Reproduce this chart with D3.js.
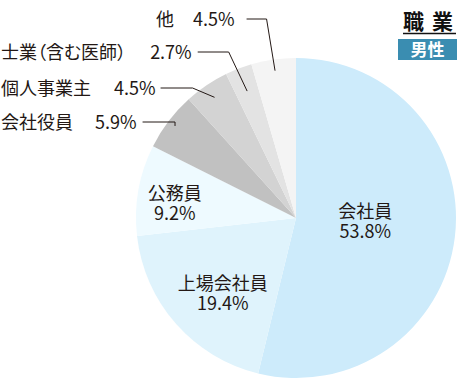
<!DOCTYPE html>
<html lang="ja">
<head>
<meta charset="UTF-8" />
<title>職業 男性</title>
<style>
  body { margin: 0; background: #fff; }
  svg { display: block; font-family: "Noto Sans CJK JP", "Noto Sans", sans-serif; }
  .inLabel { font-size: 18px; fill: #231815; text-anchor: middle; }
  .outLabel { font-size: 18px; fill: #231815; }
  .leader { fill: none; stroke: #231815; stroke-width: 1px; }
</style>
</head>
<body>
<script src="https://cdn.jsdelivr.net/npm/d3@7"></script>
<script>
// data, clockwise from 12 o'clock
var categories = ["会社員", "上場会社員", "公務員", "会社役員", "個人事業主", "士業（含む医師）", "他"];
var shares = [53.8, 19.4, 9.2, 5.9, 4.5, 2.7, 4.5];
var colors = ["#cdebfb", "#dff3fc", "#eefaff", "#c1c1c1", "#d3d3d3", "#e3e3e3", "#f4f4f4"];

var w = 471, h = 382;
var cx = 296, cy = 218, r = 160;

var svg = d3.select("body").append("svg")
  .attr("width", w)
  .attr("height", h);

var data = categories.map(function(c, i) {
  return { name: c, value: shares[i], color: colors[i] };
});

var pie = d3.pie()
  .sort(null)
  .value(function(d) { return d.value; });
var arcs = pie(data);

var arc = d3.arc().innerRadius(0).outerRadius(r);

var g = svg.append("g")
  .attr("transform", "translate(" + cx + "," + cy + ")");

g.selectAll("path.slice")
  .data(arcs)
  .enter().append("path")
  .attr("class", "slice")
  .attr("d", arc)
  .attr("fill", function(d) { return d.data.color; });

// labels inside the pie: radius factor along the mid angle, plus a nudge
var inside = {
  "会社員":     { k: 0.43, dx: 1, dy: -5 },
  "上場会社員": { k: 0.66, dx: 6, dy: 5 },
  "公務員":     { k: 0.77, dx: 0, dy: 7 }
};
arcs.forEach(function(d) {
  var o = inside[d.data.name];
  if (!o) return;
  var mid = (d.startAngle + d.endAngle) / 2;
  var x = Math.sin(mid) * r * o.k + o.dx, y = -Math.cos(mid) * r * o.k + o.dy;
  g.append("text")
    .attr("class", "inLabel")
    .attr("x", x)
    .attr("y", y - 3)
    .text(d.data.name);
  g.append("text")
    .attr("class", "inLabel")
    .attr("x", x)
    .attr("y", y + 17)
    .text(d.data.value.toFixed(1) + "%");
});

// labels outside with leader lines
var outside = {
  "会社役員":        { x: 1,   y: 122, gap: 22, lead: 6,  run: 35, tip: 0.95 },
  "個人事業主":      { x: 1,   y: 88,  gap: 23, lead: 5,  run: 32, tip: 0.91 },
  "士業（含む医師）": { x: 1,   y: 52,  gap: 24, lead: 6,  run: 31, tip: 0.85, palt: true },
  "他":              { x: 156, y: 19,  gap: 19, lead: 12, run: 20, tip: 0.93 }
};

arcs.forEach(function(d) {
  var o = outside[d.data.name];
  if (!o) return;
  var t = svg.append("text")
    .attr("class", "outLabel")
    .attr("x", o.x)
    .attr("y", o.y + 6.5);
  var n = t.append("tspan").text(d.data.name);
  if (o.palt) n.style("font-feature-settings", "'palt'");
  t.append("tspan").attr("dx", o.gap).text(d.data.value.toFixed(1) + "%");
  var bb = t.node().getBBox();
  var mid = (d.startAngle + d.endAngle) / 2;
  var px = cx + r * o.tip * Math.sin(mid);
  var py = cy - r * o.tip * Math.cos(mid);
  var x0 = bb.x + bb.width + o.lead;
  var elbow = Math.min(x0 + o.run, px);
  svg.append("path")
    .attr("class", "leader")
    .attr("d", "M" + x0 + "," + o.y + "H" + elbow + "L" + px + "," + py);
});

// title
svg.append("text")
  .attr("x", 432)
  .attr("y", 29)
  .attr("text-anchor", "middle")
  .attr("font-size", 21)
  .attr("font-weight", "bold")
  .attr("fill", "#111")
  .attr("letter-spacing", 8)
  .text("職業");
svg.append("line")
  .attr("x1", 403).attr("x2", 456)
  .attr("y1", 33.5).attr("y2", 33.5)
  .attr("stroke", "#111").attr("stroke-width", 1.5);
svg.append("rect")
  .attr("x", 398).attr("y", 39)
  .attr("width", 59).attr("height", 21)
  .attr("fill", "#3a8db1");
svg.append("text")
  .attr("x", 427.5)
  .attr("y", 56)
  .attr("text-anchor", "middle")
  .attr("font-size", 17)
  .attr("font-weight", "bold")
  .attr("fill", "#fff")
  .text("男性");
</script>
</body>
</html>
